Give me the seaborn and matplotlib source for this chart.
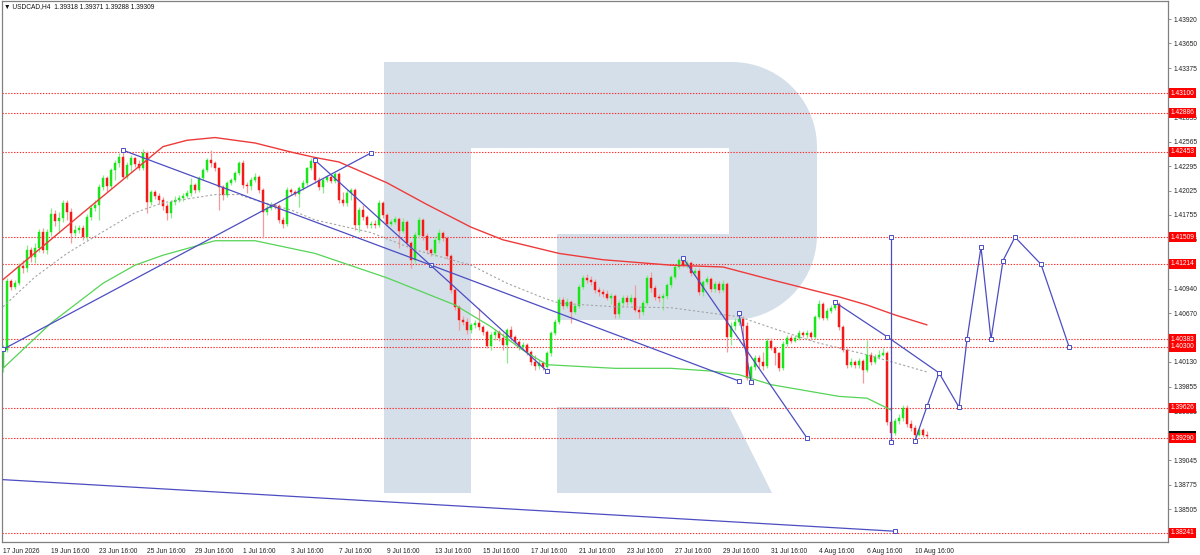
import numpy as np
import pandas as pd
import matplotlib
matplotlib.use("Agg")
import matplotlib.pyplot as plt
import matplotlib.transforms as mtransforms
from matplotlib.patches import Polygon
import seaborn as sns

# ---- H4 candles, bar 0 = 17 Jun 16:00 ----
opens = [
    1.4006, 1.4026, 1.4103, 1.4096, 1.4100, 1.4119, 1.4117, 1.4137, 1.4129, 1.4139,
    1.4157, 1.4137, 1.4157, 1.4177, 1.4169, 1.4172, 1.4189, 1.4179, 1.4156, 1.4159,
    1.4161, 1.4151, 1.4173, 1.4183, 1.4187, 1.4206, 1.4216, 1.4207, 1.4225, 1.4233,
    1.4239, 1.4217, 1.4231, 1.4238, 1.4232, 1.4227, 1.4244, 1.4190, 1.4201, 1.4196,
    1.4192, 1.4185, 1.4178, 1.4190, 1.4192, 1.4194, 1.4196, 1.4200, 1.4209, 1.4203,
    1.4216, 1.4225, 1.4236, 1.4233, 1.4227, 1.4206, 1.4198, 1.4211, 1.4214, 1.4222,
    1.4233, 1.4209, 1.4207, 1.4214, 1.4217, 1.4203, 1.4179, 1.4183, 1.4187, 1.4185,
    1.4170, 1.4166, 1.4203, 1.4201, 1.4199, 1.4205, 1.4211, 1.4227, 1.4235, 1.4214,
    1.4206, 1.4214, 1.4217, 1.4213, 1.4221, 1.4192, 1.4189, 1.4200, 1.4203, 1.4164,
    1.4181, 1.4173, 1.4164, 1.4166, 1.4164, 1.4189, 1.4175, 1.4166, 1.4168, 1.4171,
    1.4158, 1.4168, 1.4145, 1.4126, 1.4153, 1.4170, 1.4152, 1.4137, 1.4133, 1.4148,
    1.4156, 1.4150, 1.4130, 1.4093, 1.4074, 1.4059, 1.4057, 1.4048, 1.4054, 1.4056,
    1.4052, 1.4046, 1.4031, 1.4043, 1.4046, 1.4040, 1.4032, 1.4048, 1.4041, 1.4035,
    1.4030, 1.4032, 1.4024, 1.4013, 1.4009, 1.4012, 1.4008, 1.4023, 1.4045, 1.4057,
    1.4082, 1.4075, 1.4079, 1.4068, 1.4075, 1.4096, 1.4106, 1.4104, 1.4101, 1.4093,
    1.4090, 1.4088, 1.4084, 1.4086, 1.4066, 1.4078, 1.4084, 1.4079, 1.4084, 1.4070,
    1.4068, 1.4078, 1.4106, 1.4095, 1.4085, 1.4084, 1.4086, 1.4098, 1.4107, 1.4118,
    1.4126, 1.4120, 1.4122, 1.4111, 1.4114, 1.4090, 1.4101, 1.4105, 1.4094, 1.4099,
    1.4093, 1.4099, 1.4041, 1.4053, 1.4057, 1.4061, 1.4053, 1.3995, 1.4008, 1.4017,
    1.4013, 1.4009, 1.4036, 1.4029, 1.4023, 1.4006, 1.4033, 1.4040, 1.4036, 1.4040,
    1.4045, 1.4043, 1.4045, 1.4041, 1.4063, 1.4077, 1.4062, 1.4069, 1.4073, 1.4077,
    1.4052, 1.4026, 1.4010, 1.4013, 1.4010, 1.4014, 1.4004, 1.4021, 1.4013, 1.4019,
    1.4021, 1.4023, 1.3947, 1.3935, 1.3948, 1.3951, 1.3962, 1.3945, 1.3940, 1.3932,
    1.3938, 1.39318,
]
highs = [
    1.4032, 1.4106, 1.4105, 1.4104, 1.4122, 1.4126, 1.4142, 1.4140, 1.4145, 1.4160,
    1.4161, 1.4160, 1.4183, 1.4181, 1.4179, 1.4192, 1.4192, 1.4183, 1.4164, 1.4164,
    1.4164, 1.4177, 1.4187, 1.4192, 1.4210, 1.4220, 1.4218, 1.4227, 1.4236, 1.4244,
    1.4247, 1.4234, 1.4242, 1.4240, 1.4236, 1.4248, 1.4246, 1.4203, 1.4203, 1.4200,
    1.4195, 1.4189, 1.4192, 1.4196, 1.4198, 1.4200, 1.4203, 1.4216, 1.4211, 1.4218,
    1.4227, 1.4238, 1.4247, 1.4235, 1.4229, 1.4209, 1.4213, 1.4216, 1.4224, 1.4235,
    1.4236, 1.4212, 1.4217, 1.4222, 1.4220, 1.4205, 1.4187, 1.4190, 1.4189, 1.4188,
    1.4173, 1.4206, 1.4205, 1.4203, 1.4207, 1.4214, 1.4229, 1.4238, 1.4237, 1.4217,
    1.4216, 1.4220, 1.4221, 1.4223, 1.4223, 1.4201, 1.4203, 1.4205, 1.4205, 1.4184,
    1.4187, 1.4175, 1.4169, 1.4170, 1.4192, 1.4191, 1.4178, 1.4171, 1.4174, 1.4173,
    1.4172, 1.4170, 1.4147, 1.4157, 1.4173, 1.4172, 1.4155, 1.4139, 1.4152, 1.4160,
    1.4158, 1.4152, 1.4132, 1.4095, 1.4076, 1.4064, 1.4062, 1.4056, 1.4059, 1.4073,
    1.4054, 1.4048, 1.4046, 1.4050, 1.4048, 1.4045, 1.4051, 1.4053, 1.4043, 1.4037,
    1.4035, 1.4034, 1.4026, 1.4021, 1.4015, 1.4014, 1.4025, 1.4047, 1.4061, 1.4085,
    1.4085, 1.4084, 1.4082, 1.4078, 1.4099, 1.4109, 1.4110, 1.4108, 1.4105, 1.4096,
    1.4094, 1.4093, 1.4089, 1.4088, 1.4082, 1.4087, 1.4087, 1.4088, 1.4098, 1.4075,
    1.4082, 1.4109, 1.4112, 1.4098, 1.4088, 1.4089, 1.4100, 1.4109, 1.4120, 1.4128,
    1.4130, 1.4126, 1.4125, 1.4117, 1.4117, 1.4104, 1.4108, 1.4107, 1.4103, 1.4103,
    1.4104, 1.4101, 1.4057, 1.4062, 1.4067, 1.4064, 1.4057, 1.4010, 1.4021, 1.4021,
    1.4024, 1.4040, 1.4040, 1.4031, 1.4024, 1.4036, 1.4043, 1.4043, 1.4043, 1.4048,
    1.4047, 1.4048, 1.4047, 1.4065, 1.4082, 1.4079, 1.4073, 1.4076, 1.4082, 1.4079,
    1.4054, 1.4029, 1.4017, 1.4015, 1.4017, 1.4016, 1.4037, 1.4024, 1.4022, 1.4026,
    1.4029, 1.4025, 1.3949, 1.3951, 1.3956, 1.3966, 1.3965, 1.3949, 1.3943, 1.3941,
    1.3940, 1.39371,
]
lows = [
    1.4002, 1.4024, 1.4093, 1.4094, 1.4098, 1.4111, 1.4112, 1.4124, 1.4122, 1.4135,
    1.4133, 1.4132, 1.4152, 1.4163, 1.4156, 1.4168, 1.4170, 1.4145, 1.4152, 1.4155,
    1.4148, 1.4148, 1.4170, 1.4180, 1.4170, 1.4203, 1.4201, 1.4205, 1.4214, 1.4229,
    1.4216, 1.4215, 1.4223, 1.4228, 1.4225, 1.4225, 1.4178, 1.4187, 1.4193, 1.4188,
    1.4181, 1.4170, 1.4172, 1.4187, 1.4190, 1.4191, 1.4194, 1.4196, 1.4200, 1.4201,
    1.4214, 1.4223, 1.4229, 1.4224, 1.4181, 1.4192, 1.4195, 1.4209, 1.4212, 1.4220,
    1.4205, 1.4200, 1.4203, 1.4212, 1.4200, 1.4150, 1.4175, 1.4181, 1.4182, 1.4167,
    1.4161, 1.4163, 1.4198, 1.4196, 1.4184, 1.4203, 1.4209, 1.4225, 1.4211, 1.4203,
    1.4200, 1.4212, 1.4211, 1.4211, 1.4189, 1.4185, 1.4185, 1.4192, 1.4159, 1.4157,
    1.4170, 1.4161, 1.4161, 1.4161, 1.4162, 1.4172, 1.4163, 1.4163, 1.4166, 1.4139,
    1.4155, 1.4141, 1.4117, 1.4122, 1.4150, 1.4148, 1.4132, 1.4130, 1.4130, 1.4145,
    1.4147, 1.4127, 1.4089, 1.4070, 1.4048, 1.4054, 1.4044, 1.4045, 1.4051, 1.4048,
    1.4043, 1.4029, 1.4026, 1.4037, 1.4036, 1.4026, 1.4012, 1.4037, 1.4032, 1.4026,
    1.4026, 1.4021, 1.4010, 1.4004, 1.4005, 1.4004, 1.4003, 1.4020, 1.4043, 1.4055,
    1.4072, 1.4073, 1.4056, 1.4066, 1.4073, 1.4094, 1.4100, 1.4098, 1.4089, 1.4086,
    1.4085, 1.4082, 1.4077, 1.4062, 1.4062, 1.4075, 1.4076, 1.4077, 1.4068, 1.4062,
    1.4065, 1.4076, 1.4090, 1.4082, 1.4079, 1.4070, 1.4083, 1.4095, 1.4105, 1.4116,
    1.4118, 1.4117, 1.4108, 1.4108, 1.4087, 1.4086, 1.4099, 1.4090, 1.4090, 1.4089,
    1.4090, 1.4024, 1.4032, 1.4048, 1.4054, 1.4032, 1.3993, 1.3991, 1.4004, 1.4006,
    1.4004, 1.4006, 1.4026, 1.4010, 1.4003, 1.4004, 1.4031, 1.4034, 1.4035, 1.4037,
    1.4041, 1.4040, 1.4037, 1.4038, 1.4061, 1.4059, 1.4059, 1.4067, 1.4070, 1.4048,
    1.4024, 1.4006, 1.4008, 1.4006, 1.4006, 1.3990, 1.4002, 1.4010, 1.4011, 1.4016,
    1.4020, 1.3943, 1.3925, 1.3932, 1.3945, 1.3948, 1.3941, 1.3937, 1.3929, 1.3931,
    1.3930, 1.39288,
]
closes = [
    1.4026, 1.4103, 1.4096, 1.4100, 1.4119, 1.4117, 1.4137, 1.4129, 1.4139, 1.4157,
    1.4137, 1.4157, 1.4177, 1.4169, 1.4172, 1.4189, 1.4179, 1.4156, 1.4159, 1.4161,
    1.4151, 1.4173, 1.4183, 1.4187, 1.4206, 1.4216, 1.4207, 1.4225, 1.4233, 1.4239,
    1.4217, 1.4231, 1.4238, 1.4232, 1.4227, 1.4244, 1.4190, 1.4201, 1.4196, 1.4192,
    1.4185, 1.4178, 1.4190, 1.4192, 1.4194, 1.4196, 1.4200, 1.4209, 1.4203, 1.4216,
    1.4225, 1.4236, 1.4233, 1.4227, 1.4206, 1.4198, 1.4211, 1.4214, 1.4222, 1.4233,
    1.4209, 1.4207, 1.4214, 1.4217, 1.4203, 1.4179, 1.4183, 1.4187, 1.4185, 1.4170,
    1.4166, 1.4203, 1.4201, 1.4199, 1.4205, 1.4211, 1.4227, 1.4235, 1.4214, 1.4206,
    1.4214, 1.4217, 1.4213, 1.4221, 1.4192, 1.4189, 1.4200, 1.4203, 1.4164, 1.4181,
    1.4173, 1.4164, 1.4166, 1.4164, 1.4189, 1.4175, 1.4166, 1.4168, 1.4171, 1.4158,
    1.4168, 1.4145, 1.4126, 1.4153, 1.4170, 1.4152, 1.4137, 1.4133, 1.4148, 1.4156,
    1.4150, 1.4130, 1.4093, 1.4074, 1.4059, 1.4057, 1.4048, 1.4054, 1.4056, 1.4052,
    1.4046, 1.4031, 1.4043, 1.4046, 1.4040, 1.4032, 1.4048, 1.4041, 1.4035, 1.4030,
    1.4032, 1.4024, 1.4013, 1.4009, 1.4012, 1.4008, 1.4023, 1.4045, 1.4057, 1.4082,
    1.4075, 1.4079, 1.4068, 1.4075, 1.4096, 1.4106, 1.4104, 1.4101, 1.4093, 1.4090,
    1.4088, 1.4084, 1.4086, 1.4066, 1.4078, 1.4084, 1.4079, 1.4084, 1.4070, 1.4068,
    1.4078, 1.4106, 1.4095, 1.4085, 1.4084, 1.4086, 1.4098, 1.4107, 1.4118, 1.4126,
    1.4120, 1.4122, 1.4111, 1.4114, 1.4090, 1.4101, 1.4105, 1.4094, 1.4099, 1.4093,
    1.4099, 1.4041, 1.4053, 1.4057, 1.4061, 1.4053, 1.3995, 1.4008, 1.4017, 1.4013,
    1.4009, 1.4036, 1.4029, 1.4023, 1.4006, 1.4033, 1.4040, 1.4036, 1.4040, 1.4045,
    1.4043, 1.4045, 1.4041, 1.4063, 1.4077, 1.4062, 1.4069, 1.4073, 1.4077, 1.4052,
    1.4026, 1.4010, 1.4013, 1.4010, 1.4014, 1.4004, 1.4021, 1.4013, 1.4019, 1.4021,
    1.4023, 1.3947, 1.3935, 1.3948, 1.3951, 1.3962, 1.3945, 1.3940, 1.3932, 1.3938,
    1.3932, 1.39309,
]

# ---- axes text ----
x_tick_bars = [0, 12, 24, 36, 48, 60, 72, 84, 96, 108, 120, 132, 144, 156, 168,
               180, 192, 204, 216, 228]
x_tick_labels = ["17 Jun 2026", "19 Jun 16:00", "23 Jun 16:00", "25 Jun 16:00",
                 "29 Jun 16:00", "1 Jul 16:00", "3 Jul 16:00", "7 Jul 16:00",
                 "9 Jul 16:00", "13 Jul 16:00", "15 Jul 16:00", "17 Jul 16:00",
                 "21 Jul 16:00", "23 Jul 16:00", "27 Jul 16:00", "29 Jul 16:00",
                 "31 Jul 16:00", "4 Aug 16:00", "6 Aug 16:00", "10 Aug 16:00"]
y_ticks = [1.43920, 1.43650, 1.43375, 1.43100, 1.42835, 1.42565, 1.42295, 1.42025,
           1.41755, 1.41485, 1.41215, 1.40940, 1.40670, 1.40400, 1.40130, 1.39855,
           1.39585, 1.39315, 1.39045, 1.38775, 1.38505]
# scale labels that sit fully under a price box in the screenshot
y_hidden = [1.43100, 1.41215, 1.40400, 1.39315]
levels = [1.43100, 1.42886, 1.42453, 1.41509, 1.41214, 1.40383, 1.40300,
          1.39626, 1.39290, 1.38241]
last_price = 1.39309
title = "\u25BC USDCAD,H4  1.39318 1.39371 1.39288 1.39309"

# ---- moving averages (bar, price) ----
red_ma_bar = [0, 20, 40, 46, 53, 63, 72, 78, 84, 96, 106, 117, 125, 139, 150, 167,
              180, 192, 209, 216, 223, 231]
red_ma_val = [1.4104, 1.4178, 1.4251, 1.4258, 1.4261, 1.4255, 1.4245, 1.4239, 1.4234,
              1.4211, 1.4187, 1.4162, 1.4148, 1.4133, 1.4126, 1.4120, 1.4118, 1.4104,
              1.4085, 1.4076, 1.4065, 1.4054]
green_ma_bar = [0, 12, 25, 33, 40, 53, 63, 78, 96, 113, 122, 130, 136, 153, 167, 177,
                184, 192, 209, 216, 222]
green_ma_val = [1.4006, 1.4056, 1.4100, 1.4120, 1.4131, 1.4147, 1.4147, 1.4133, 1.4106,
                1.4076, 1.4052, 1.4026, 1.4010, 1.4006, 1.4006, 1.4003, 1.3999, 1.3988,
                1.3975, 1.3973, 1.3960]
gray_ma_bar = [0, 8, 16, 25, 33, 40, 53, 59, 63, 72, 78, 92, 103, 117, 126, 135, 139,
               153, 167, 177, 184, 192, 203, 216, 231]
gray_ma_val = [1.4074, 1.4107, 1.4133, 1.4157, 1.4178, 1.4189, 1.4198, 1.4198, 1.4192,
               1.4181, 1.4170, 1.4156, 1.4137, 1.4120, 1.4100, 1.4084, 1.4078, 1.4074,
               1.4073, 1.4067, 1.4063, 1.4051, 1.4035, 1.4021, 1.4002]

# ---- drawn trend objects (bar, price) ----
trend_up_bar, trend_up_val = [0, 92], [1.4027, 1.4244]
trend_long_bar, trend_long_val = [30, 107, 184], [1.4247, 1.4120, 1.3992]
trend_steep_bar, trend_steep_val = [78, 136], [1.4236, 1.4003]
trend_jul_bar, trend_jul_val = [170, 201], [1.4128, 1.3929]
trend_short_bar, trend_short_val = [184, 187], [1.4067, 1.3991]
trend_aug_bar, trend_aug_val = [208, 221, 234], [1.4079, 1.4041, 1.4001]
trend_low_bar, trend_low_val = [0, 223], [1.3883, 1.3826]
vline_bar, vline_val = [222, 222], [1.4151, 1.3925]
forecast_bar = [228, 231, 234, 239, 241, 244.5, 247, 250, 253, 259.5, 266.5]
forecast_val = [1.3926, 1.3964, 1.4001, 1.3963, 1.4038, 1.4140, 1.4038, 1.4125,
                1.4151, 1.4121, 1.4030]

BULL, BEAR = "#19e619", "#f51a1a"
BULL_WICK, BEAR_WICK = "#8aea8a", "#f39a9a"
BLUE = "#4d4dc2"
LEVEL_RED = "#ff2a2a"
WATERMARK = "#d5dfea"

sns.set_style("white")
plt.rcParams["font.family"] = ["Liberation Sans", "DejaVu Sans"]

W, H = 1200, 555
fig = plt.figure(figsize=(W / 100, H / 100), dpi=100)
ax = fig.add_axes([2 / W, 13 / H, 1166 / W, 541 / H])
ax.set_xlim(-0.25, 291.25)
ax.set_ylim(1.38141, 1.44119)


# watermark "R" (pixel layout of the screenshot -> axes fraction)
def to_ax(points):
    return [((px - 2) / 1166, (542 - py) / 541) for px, py in points]


a = np.linspace(0, np.pi / 2, 20)
bowl = [(471, 62), (732, 62)]
bowl += [(732 + 85 * np.sin(t), 147 - 85 * np.cos(t)) for t in a]
bowl += [(817, 235)]
bowl += [(732 + 85 * np.cos(t), 235 + 85 * np.sin(t)) for t in a]
bowl += [(557, 320), (557, 234), (729, 234), (729, 148), (471, 148)]
stem = [(384, 62), (471, 62), (471, 493), (384, 493)]
leg = [(557, 407), (729, 407), (772, 493), (557, 493)]
for shape in (stem, bowl, leg):
    ax.add_patch(Polygon(to_ax(shape), closed=True, transform=ax.transAxes,
                         fc=WATERMARK, ec="none", zorder=0))

for v in levels:
    ax.axhline(v, color=LEVEL_RED, lw=0.8, ls=(0, (1.2, 1.4)), zorder=1)

# candles
df = pd.DataFrame({"open": opens, "high": highs, "low": lows, "close": closes})
df["bar"] = np.arange(len(df))
up = df["close"] >= df["open"]
body_col = np.where(up, BULL, BEAR)
wick_col = np.where(up, BULL_WICK, BEAR_WICK)
ax.vlines(df["bar"], df["low"], df["high"], colors=wick_col, lw=0.9, zorder=2)
ax.bar(df["bar"], df["close"] - df["open"], bottom=df["open"], width=0.72,
       color=body_col, edgecolor=body_col, lw=0.3, zorder=2.5)

# moving averages
sns.lineplot(x=red_ma_bar, y=red_ma_val, ax=ax, color="#ee3a3a", lw=1.0,
             estimator=None, sort=False, zorder=3)
sns.lineplot(x=green_ma_bar, y=green_ma_val, ax=ax, color="#55d455", lw=0.9,
             estimator=None, sort=False, zorder=3)
sns.lineplot(x=gray_ma_bar, y=gray_ma_val, ax=ax, color="#a5a5a5", lw=0.8,
             ls=(0, (2, 2)), estimator=None, sort=False, zorder=3)

# trend objects
mk = dict(marker="s", ms=2.6, mfc="white", mec=BLUE, mew=0.7)
for bx, by in [(trend_up_bar, trend_up_val), (trend_long_bar, trend_long_val),
               (trend_steep_bar, trend_steep_val), (trend_jul_bar, trend_jul_val),
               (trend_short_bar, trend_short_val), (trend_aug_bar, trend_aug_val),
               (vline_bar, vline_val), (forecast_bar, forecast_val)]:
    ax.plot(bx, by, color=BLUE, lw=0.9, zorder=4, **mk)
ax.plot(trend_low_bar, trend_low_val, color=BLUE, lw=0.9, zorder=4,
        markevery=[1], **mk)

# axes styling
for s in ax.spines.values():
    s.set_color("#808080")
    s.set_linewidth(0.9)
ax.yaxis.tick_right()
ax.set_yticks(y_ticks)
ax.set_yticklabels(["" if v in y_hidden else f"{v:.5f}" for v in y_ticks])
ax.tick_params(axis="y", length=2.5, width=0.6, color="#808080", labelsize=4.8,
               pad=1.2, labelcolor="#222222", right=True, left=False)
ax.set_xticks(x_tick_bars)
ax.set_xticklabels(x_tick_labels, ha="left")
ax.tick_params(axis="x", length=2.5, width=0.6, color="#808080", labelsize=4.8,
               pad=1.5, labelcolor="#222222")
ax.set_xlabel("")
ax.set_ylabel("")

# price boxes on the right scale
trans = mtransforms.blended_transform_factory(ax.transAxes, ax.transData)
box = dict(boxstyle="square,pad=0.22", ec="none")
ax.text(1.0021, last_price, f"{last_price:.5f}", transform=trans, ha="left",
        va="center", color="white", fontsize=4.8, clip_on=False, zorder=6,
        bbox=dict(box, fc="black"))
for v in levels:
    ax.text(1.0021, v, f"{v:.5f}", transform=trans, ha="left", va="center",
            color="white", fontsize=4.8, clip_on=False, zorder=7,
            bbox=dict(box, fc="#ff0000"))

ax.text(0.002, 0.990, title, transform=ax.transAxes, ha="left", va="center",
        fontsize=4.8, color="#111111", zorder=8)

fig.savefig("out.png", dpi=100)
plt.close(fig)
